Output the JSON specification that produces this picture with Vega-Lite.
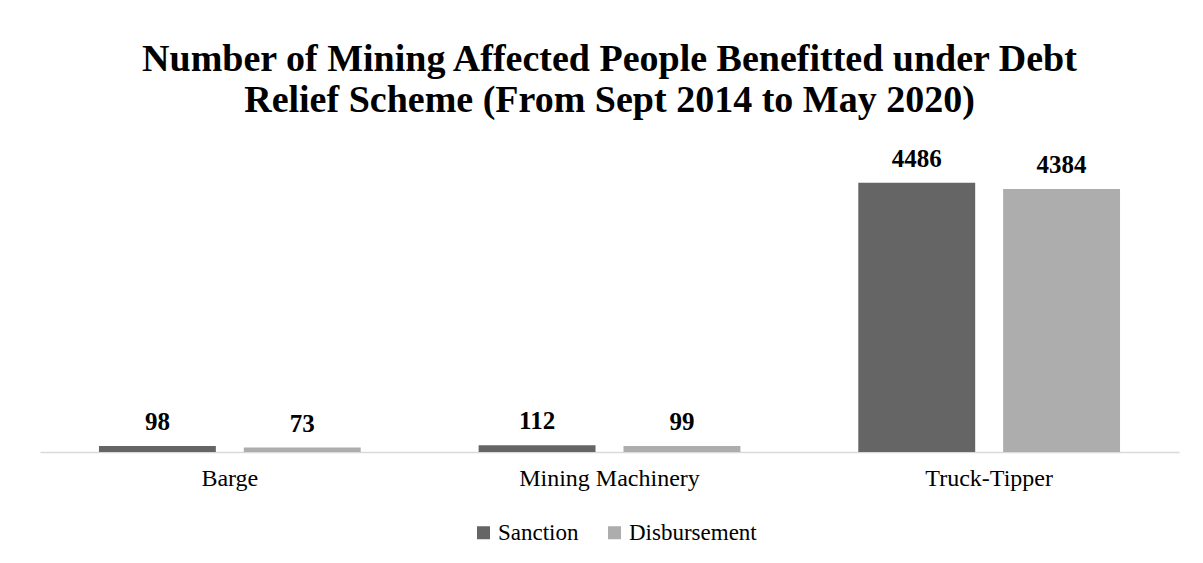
{
  "$schema": "https://vega.github.io/schema/vega-lite/v6.json",
  "autosize": {"type": "none"},
  "width": 1139,
  "height": 312,
  "padding": {"left": 40, "top": 140, "right": 24, "bottom": 111},
  "background": "white",
  "title": {
    "text": ["Number of Mining Affected People Benefitted under Debt", "Relief Scheme (From Sept 2014 to May 2020)"],
    "font": "Liberation Serif",
    "fontSize": 38,
    "fontWeight": "bold",
    "lineHeight": 41,
    "color": "black",
    "anchor": "middle",
    "offset": 20
  },
  "data": {
    "values": [
      {"category": "Barge", "series": "Sanction", "value": 98},
      {"category": "Barge", "series": "Disbursement", "value": 73},
      {"category": "Mining Machinery", "series": "Sanction", "value": 112},
      {"category": "Mining Machinery", "series": "Disbursement", "value": 99},
      {"category": "Truck-Tipper", "series": "Sanction", "value": 4486},
      {"category": "Truck-Tipper", "series": "Disbursement", "value": 4384}
    ]
  },
  "encoding": {
    "x": {
      "field": "category", "type": "nominal", "sort": null,
      "scale": {"paddingInner": 0, "paddingOuter": 0},
      "axis": {
        "title": null, "labelAngle": 0, "ticks": false, "labelLimit": 0,
        "labelFont": "Liberation Serif", "labelFontSize": 24, "labelColor": "black",
        "labelPadding": 14, "domainColor": "#d9d9d9", "domainWidth": 1.5
      }
    },
    "xOffset": {
      "field": "series", "type": "nominal", "sort": ["Sanction", "Disbursement"],
      "scale": {"paddingInner": 0.193, "paddingOuter": 0.407}
    },
    "y": {
      "field": "value", "type": "quantitative",
      "scale": {"domain": [0, 5200]},
      "axis": null
    }
  },
  "layer": [
    {
      "mark": {"type": "bar"},
      "encoding": {
        "color": {
          "field": "series", "type": "nominal", "sort": ["Sanction", "Disbursement"],
          "scale": {"domain": ["Sanction", "Disbursement"], "range": ["#656565", "#adadad"]},
          "legend": {
            "title": null, "orient": "none", "direction": "horizontal",
            "legendX": 432, "legendY": 381,
            "symbolType": "square", "symbolSize": 169, "symbolStrokeWidth": 0,
            "labelFont": "Liberation Serif", "labelFontSize": 23, "labelColor": "black",
            "labelOffset": 3, "columnPadding": 24
          }
        }
      }
    },
    {
      "mark": {
        "type": "text", "font": "Liberation Serif", "fontSize": 25, "fontWeight": "bold",
        "color": "black", "baseline": "middle", "dy": -24
      },
      "encoding": {
        "text": {"field": "value", "type": "quantitative"}
      }
    }
  ],
  "config": {
    "view": {"stroke": null},
    "legend": {"labelFont": "Liberation Serif", "labelFontSize": 23, "labelColor": "black"}
  }
}
